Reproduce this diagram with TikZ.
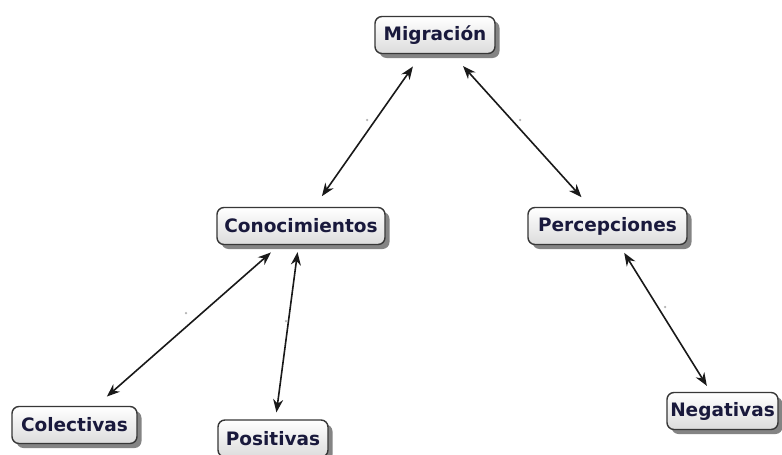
\documentclass[tikz,border=0pt]{standalone}
\usepackage{fontspec}
\setmainfont{DejaVu Sans}
\usetikzlibrary{shadows,arrows.meta}
\definecolor{txt}{RGB}{25,25,60}
\definecolor{bord}{RGB}{55,55,55}
\definecolor{boxbot}{RGB}{220,220,220}
\definecolor{linkc}{RGB}{25,25,25}
\begin{document}
\begin{tikzpicture}[x=1pt,y=-1pt,
  concept/.style={draw=bord, line width=1.4pt, rounded corners=7pt,
    top color=white, bottom color=boxbot, minimum height=37pt, inner sep=0pt,
    font=\fontsize{18.5}{21}\selectfont\bfseries, text=txt,
    drop shadow={shadow xshift=4.5pt, shadow yshift=-4.5pt, fill=black!80, opacity=0.6}},
  link/.style={line width=1.6pt, draw=linkc,
    {Stealth[length=13pt,width=10pt]}-{Stealth[length=13pt,width=10pt]}},
  dotlab/.style={circle, fill=gray!60, inner sep=0pt, minimum size=2.5pt}]
\useasboundingbox (0,0) rectangle (782,455);
\fill[white] (0,0) rectangle (782,455);

\node[concept, minimum width=120pt] (mig) at (435,35) {Migración};
\node[concept, minimum width=168pt] (con) at (301,226) {Conocimientos};
\node[concept, minimum width=159pt] (per) at (607.5,226) {Percepciones};
\node[concept, minimum width=125pt] (col) at (74.5,425) {Colectivas};
\node[concept, minimum width=110pt] (pos) at (273,438.5) {Positivas};
\node[concept, minimum width=111pt] (neg) at (722.5,411) {Negativas};

\draw[link, shorten <=15pt, shorten >=13pt] (mig) -- (con);
\draw[link, shorten <=16pt, shorten >=13pt] (mig) -- (per);
\draw[link, shorten <=11pt, shorten >=14pt] (con) -- (col);
\draw[link, shorten <=7pt, shorten >=7pt] (con) -- (pos);
\draw[link, shorten <=9pt, shorten >=7pt] (per) -- (neg);

\node[dotlab] (d1) at (367,120) {};
\node[dotlab] (d2) at (520,120) {};
\node[dotlab] (d3) at (186,313) {};
\node[dotlab] (d4) at (286,321) {};
\node[dotlab] (d5) at (665,307) {};
\end{tikzpicture}
\end{document}
